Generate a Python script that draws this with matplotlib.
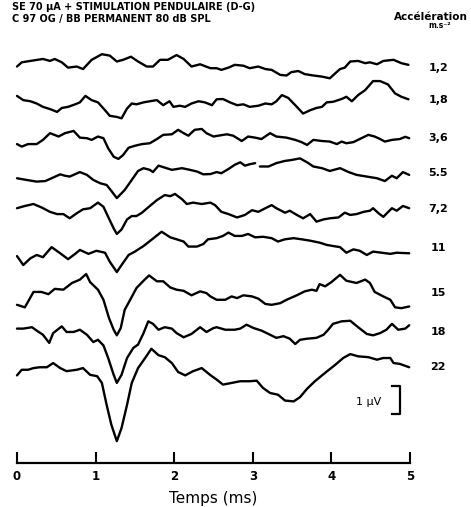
"""
Potentiels évoqués – stimulation pendulaire, 9 accélérations
"""

import numpy as np
import matplotlib
matplotlib.use('Agg')
import matplotlib.pyplot as plt

matplotlib.rcParams.update({
    'font.family': ['DejaVu Sans'],
    'font.size': 8,
    'lines.linewidth': 1.6,
})

nan = np.nan

# accélérations (étiquettes de droite) et position verticale de chaque tracé (µV)
accel_labels = ['1,2', '1,8', '3,6', '5.5', '7,2', '11', '15', '18', '22']
offsets = [14.11, 12.96, 11.61, 10.36, 9.07, 7.68, 6.07, 4.68, 3.43]

# --- tracés : temps (ms), amplitude (µV) ---
t_12 = [0.00, 0.06, 0.17, 0.33, 0.42, 0.48, 0.57, 0.65, 0.76, 0.84, 0.95, 1.08, 1.18, 1.27,
        1.35, 1.45, 1.54, 1.65, 1.73, 1.82, 1.92, 2.03, 2.12, 2.22, 2.33, 2.46, 2.54, 2.60,
        2.69, 2.77, 2.88, 2.96, 3.07, 3.16, 3.24, 3.35, 3.43, 3.49, 3.58, 3.66, 3.77, 3.88,
        3.98, 4.05, 4.11, 4.17, 4.24, 4.34, 4.43, 4.49, 4.58, 4.66, 4.79, 4.89, 4.98]
v_12 = [0.05, 0.20, 0.25, 0.32, 0.25, 0.32, 0.20, 0.01, 0.05, -0.04, 0.29, 0.49, 0.44, 0.23,
        0.29, 0.40, 0.23, 0.05, 0.05, 0.29, 0.29, 0.46, 0.32, 0.05, 0.13, -0.01, -0.01, -0.07,
        0.01, 0.11, 0.08, -0.01, 0.05, -0.04, -0.07, -0.25, -0.27, -0.15, -0.11, -0.22, -0.27, -0.31,
        -0.37, -0.19, -0.04, 0.01, 0.23, 0.25, 0.17, 0.20, 0.13, 0.25, 0.29, 0.17, 0.11]

t_18 = [0.00, 0.08, 0.17, 0.25, 0.33, 0.42, 0.51, 0.57, 0.65, 0.74, 0.80, 0.87, 0.95, 1.03,
        1.12, 1.18, 1.27, 1.33, 1.40, 1.46, 1.52, 1.61, 1.69, 1.78, 1.86, 1.94, 1.99, 2.07,
        2.14, 2.22, 2.31, 2.39, 2.48, 2.54, 2.62, 2.71, 2.80, 2.88, 2.96, 3.07, 3.16, 3.24,
        3.30, 3.37, 3.45, 3.54, 3.64, 3.73, 3.81, 3.88, 3.94, 4.02, 4.13, 4.19, 4.26, 4.34,
        4.43, 4.53, 4.62, 4.72, 4.81, 4.89, 4.98]
v_18 = [0.15, 0.00, -0.04, -0.12, -0.24, -0.32, -0.42, -0.28, -0.24, -0.15, -0.08, 0.15, 0.00, -0.08,
        -0.36, -0.56, -0.60, -0.65, -0.30, -0.12, -0.15, -0.08, -0.04, 0.00, -0.18, -0.04, -0.24, -0.20,
        -0.24, -0.12, -0.04, -0.08, -0.18, 0.03, 0.04, -0.08, -0.18, -0.15, -0.24, -0.20, -0.12, -0.15,
        -0.04, 0.18, 0.08, -0.18, -0.48, -0.36, -0.28, -0.24, -0.08, -0.06, 0.04, 0.12, -0.04, 0.18,
        0.36, 0.68, 0.68, 0.56, 0.24, 0.12, 0.03]

t_36 = [0.00, 0.06, 0.14, 0.25, 0.33, 0.42, 0.53, 0.61, 0.72, 0.80, 0.89, 0.95, 1.03, 1.10,
        1.16, 1.23, 1.29, 1.35, 1.42, 1.50, 1.59, 1.69, 1.78, 1.86, 1.97, 2.05, 2.12, 2.18,
        2.26, 2.35, 2.41, 2.50, 2.56, 2.67, 2.75, 2.86, 2.94, 3.03, 3.11, 3.22, 3.30, 3.43,
        3.54, 3.62, 3.69, 3.77, 3.88, 3.98, 4.07, 4.13, 4.19, 4.28, 4.36, 4.47, 4.55, 4.62,
        4.68, 4.77, 4.87, 4.94, 4.99]
v_36 = [-0.22, -0.31, -0.22, -0.22, -0.07, 0.17, 0.05, 0.17, 0.25, 0.01, -0.01, -0.07, 0.05, -0.01,
        -0.37, -0.67, -0.75, -0.61, -0.35, -0.28, -0.22, -0.19, -0.04, 0.11, 0.13, 0.29, 0.17, 0.08,
        0.29, 0.32, 0.17, 0.05, 0.08, 0.13, 0.08, -0.11, 0.05, 0.01, -0.04, 0.17, 0.05, 0.01,
        -0.07, -0.15, -0.25, -0.07, -0.11, -0.13, -0.22, -0.13, -0.19, -0.15, -0.04, 0.11, 0.05, -0.04,
        -0.13, -0.07, -0.04, 0.04, -0.01]

# le tracé 5.5 est interrompu vers 3,06 ms (nan)
t_55 = [0.00, 0.12, 0.25, 0.36, 0.44, 0.55, 0.61, 0.67, 0.80, 0.89, 0.97, 1.06, 1.14, 1.20,
        1.27, 1.37, 1.46, 1.54, 1.61, 1.69, 1.73, 1.80, 1.88, 1.97, 2.10, 2.20, 2.29, 2.37,
        2.46, 2.54, 2.60, 2.69, 2.77, 2.84, 2.90, 2.96, 3.03, 3.06, 3.09, 3.20, 3.30, 3.41,
        3.49, 3.60, 3.69, 3.77, 3.88, 3.98, 4.11, 4.22, 4.32, 4.45, 4.58, 4.68, 4.77, 4.83,
        4.91, 4.99]
v_55 = [-0.19, -0.25, -0.31, -0.29, -0.19, -0.05, -0.10, -0.13, 0.03, -0.07, -0.25, -0.37, -0.43, -0.64,
        -0.90, -0.61, -0.25, 0.07, 0.17, 0.11, 0.03, 0.26, 0.19, 0.11, 0.17, 0.11, 0.05, -0.05,
        -0.04, 0.03, -0.01, 0.14, 0.29, 0.38, 0.26, 0.31, 0.35, nan, 0.23, 0.23, 0.35, 0.43,
        0.46, 0.52, 0.38, 0.23, 0.17, 0.07, 0.17, 0.03, -0.07, -0.13, -0.19, -0.29, -0.10, -0.19,
        0.03, -0.07]

t_72 = [0.00, 0.10, 0.21, 0.31, 0.42, 0.51, 0.59, 0.67, 0.76, 0.84, 0.93, 1.03, 1.10, 1.16,
        1.23, 1.27, 1.33, 1.40, 1.46, 1.52, 1.59, 1.69, 1.78, 1.88, 1.95, 2.01, 2.10, 2.16,
        2.24, 2.35, 2.46, 2.52, 2.60, 2.69, 2.80, 2.90, 2.99, 3.07, 3.16, 3.24, 3.30, 3.41,
        3.47, 3.56, 3.64, 3.73, 3.81, 3.90, 3.98, 4.09, 4.17, 4.24, 4.32, 4.41, 4.49, 4.53,
        4.60, 4.66, 4.77, 4.83, 4.91, 4.99]
v_72 = [0.03, 0.11, 0.18, 0.06, -0.10, -0.18, -0.18, -0.33, -0.15, -0.01, 0.03, 0.23, 0.08, -0.28,
        -0.69, -0.89, -0.73, -0.37, -0.25, -0.25, -0.13, 0.11, 0.32, 0.50, 0.46, 0.54, 0.35, 0.18,
        0.23, 0.18, 0.23, 0.14, -0.10, -0.18, -0.30, -0.21, -0.04, -0.10, 0.03, 0.14, 0.03, -0.13,
        -0.06, -0.21, -0.33, -0.18, -0.45, -0.37, -0.33, -0.30, -0.13, -0.21, -0.18, -0.10, -0.06, 0.03,
        -0.15, -0.28, 0.03, -0.06, 0.11, 0.03]

t_11 = [0.00, 0.08, 0.17, 0.25, 0.33, 0.44, 0.55, 0.65, 0.74, 0.80, 0.91, 1.01, 1.12, 1.18,
        1.27, 1.33, 1.42, 1.50, 1.61, 1.71, 1.84, 1.95, 2.03, 2.12, 2.18, 2.29, 2.37, 2.43,
        2.54, 2.62, 2.69, 2.77, 2.86, 2.94, 3.03, 3.13, 3.24, 3.32, 3.41, 3.52, 3.62, 3.73,
        3.85, 3.94, 4.02, 4.11, 4.19, 4.28, 4.36, 4.45, 4.53, 4.64, 4.75, 4.83, 4.99]
v_11 = [-0.29, -0.61, -0.37, -0.25, -0.33, 0.03, -0.19, -0.40, -0.21, -0.07, -0.21, -0.10, -0.17, -0.49,
        -0.86, -0.61, -0.25, -0.13, 0.07, 0.29, 0.58, 0.38, 0.31, 0.23, 0.05, 0.05, 0.14, 0.31,
        0.35, 0.43, 0.55, 0.43, 0.43, 0.50, 0.38, 0.40, 0.35, 0.23, 0.31, 0.35, 0.31, 0.26,
        0.19, 0.11, 0.07, 0.03, -0.17, -0.05, -0.10, -0.25, -0.13, -0.17, -0.21, -0.17, -0.19]

t_15 = [0.00, 0.10, 0.21, 0.31, 0.40, 0.48, 0.59, 0.70, 0.80, 0.88, 0.93, 1.03, 1.10, 1.17,
        1.23, 1.27, 1.32, 1.37, 1.44, 1.52, 1.61, 1.68, 1.78, 1.86, 1.95, 2.03, 2.12, 2.22,
        2.33, 2.41, 2.46, 2.54, 2.65, 2.73, 2.80, 2.88, 2.99, 3.07, 3.16, 3.24, 3.35, 3.43,
        3.56, 3.66, 3.75, 3.81, 3.85, 3.92, 4.00, 4.11, 4.19, 4.32, 4.43, 4.49, 4.55, 4.66,
        4.75, 4.81, 4.89, 4.99]
v_15 = [-0.42, -0.51, 0.04, 0.04, -0.04, 0.15, 0.12, 0.36, 0.48, 0.68, 0.39, 0.12, -0.24, -0.89,
        -1.31, -1.51, -1.25, -0.60, -0.24, 0.18, 0.44, 0.63, 0.42, 0.42, 0.20, 0.12, 0.08, -0.08,
        0.06, 0.00, -0.12, -0.24, -0.24, -0.12, -0.18, -0.08, -0.12, -0.20, -0.39, -0.42, -0.36, -0.24,
        -0.08, 0.06, 0.12, 0.08, 0.32, 0.24, 0.39, 0.65, 0.44, 0.36, 0.48, 0.36, 0.04, -0.12,
        -0.24, -0.51, -0.54, -0.48]

t_18b = [0.00, 0.08, 0.19, 0.25, 0.33, 0.41, 0.46, 0.57, 0.63, 0.72, 0.80, 0.89, 0.97, 1.03,
         1.10, 1.16, 1.23, 1.27, 1.33, 1.40, 1.48, 1.54, 1.61, 1.67, 1.73, 1.80, 1.88, 1.97,
         2.03, 2.12, 2.22, 2.33, 2.41, 2.50, 2.54, 2.65, 2.77, 2.84, 2.92, 3.01, 3.11, 3.22,
         3.30, 3.39, 3.47, 3.54, 3.60, 3.69, 3.81, 3.90, 3.96, 4.02, 4.13, 4.24, 4.34, 4.45,
         4.53, 4.62, 4.70, 4.77, 4.85, 4.94, 4.99]
v_18b = [0.12, 0.12, 0.17, 0.05, -0.10, -0.39, -0.04, 0.20, 0.00, 0.00, 0.08, -0.10, -0.36, -0.28,
         -0.48, -0.93, -1.53, -1.82, -1.53, -0.93, -0.57, -0.45, -0.04, 0.38, 0.29, 0.08, 0.17, 0.12,
         -0.04, -0.19, -0.07, 0.17, 0.00, 0.14, 0.17, 0.08, 0.08, 0.12, 0.26, 0.14, 0.05, -0.10,
         -0.21, -0.15, -0.24, -0.43, -0.28, -0.24, -0.21, -0.10, 0.08, 0.29, 0.38, 0.40, 0.17, -0.07,
         -0.12, -0.04, 0.08, 0.29, 0.08, 0.12, 0.24]

t_22 = [0.00, 0.06, 0.14, 0.21, 0.29, 0.38, 0.46, 0.55, 0.63, 0.76, 0.84, 0.93, 1.02, 1.08,
        1.14, 1.20, 1.27, 1.33, 1.40, 1.46, 1.54, 1.63, 1.71, 1.80, 1.88, 1.97, 2.05, 2.14,
        2.24, 2.35, 2.46, 2.54, 2.62, 2.73, 2.84, 2.96, 3.05, 3.13, 3.22, 3.32, 3.41, 3.52,
        3.60, 3.69, 3.79, 3.92, 4.05, 4.15, 4.24, 4.34, 4.47, 4.58, 4.66, 4.75, 4.79, 4.87,
        4.99]
v_22 = [-0.30, -0.10, -0.10, -0.04, -0.01, -0.01, 0.14, -0.04, -0.15, -0.10, -0.04, -0.28, -0.33, -0.57,
        -1.35, -2.06, -2.65, -2.18, -1.35, -0.57, -0.04, 0.32, 0.65, 0.42, 0.35, 0.14, -0.18, -0.30,
        -0.15, -0.04, -0.29, -0.45, -0.63, -0.57, -0.51, -0.51, -0.49, -0.75, -0.93, -0.99, -1.20, -1.23,
        -1.08, -0.78, -0.51, -0.21, 0.08, 0.32, 0.46, 0.38, 0.35, 0.26, 0.32, 0.32, 0.14, 0.11,
        -0.01]

traces = [(t_12, v_12), (t_18, v_18), (t_36, v_36), (t_55, v_55), (t_72, v_72),
          (t_11, v_11), (t_15, v_15), (t_18b, v_18b), (t_22, v_22)]

time_ticks = [0, 1, 2, 3, 4, 5]
scale_uV = 1.0

fig = plt.figure(figsize=(4.71, 5.07), dpi=100)
ax = fig.add_axes([0, 0, 1, 1])
ax.set_xlim(-0.2163, 5.776)
ax.set_ylim(-1.571, 16.536)

for (t, v), off, lab in zip(traces, offsets, accel_labels):
    ax.plot(t, np.asarray(v) + off, color='black', lw=1.7,
            solid_joinstyle='round', solid_capstyle='round')
    ax.text(5.36, off, lab, ha='center', va='center', fontsize=8, fontweight='bold')

# axe du temps (en bas, graduations vers le haut)
for s in ['top', 'left', 'right']:
    ax.spines[s].set_visible(False)
ax.spines['bottom'].set_position(('data', 0))
ax.spines['bottom'].set_bounds(0, 5)
ax.spines['bottom'].set_linewidth(1.6)
ax.set_xticks(time_ticks)
ax.set_xticklabels([str(x) for x in time_ticks], fontweight='bold', fontsize=8.5)
ax.tick_params(axis='x', direction='in', length=8, width=1.5, pad=5)
ax.set_yticks([])
ax.text(2.5, -1.25, 'Temps (ms)', ha='center', va='center', fontsize=11)

# barre d'échelle 1 µV
x_bar = 4.87
y_bot = 1.75
ax.plot([x_bar - 0.10, x_bar, x_bar, x_bar - 0.10],
        [y_bot + scale_uV, y_bot + scale_uV, y_bot, y_bot], color='black', lw=1.6)
ax.text(4.47, 2.18, '1 \u00b5V', ha='center', va='center', fontsize=8)

# en-têtes
ax.text(-0.064, 16.30, 'SE 70 \u00b5A + STIMULATION PENDULAIRE (D-G)',
        ha='left', va='center', fontsize=7, fontweight='bold')
ax.text(-0.064, 15.86, 'C 97 OG / BB PERMANENT 80 dB SPL',
        ha='left', va='center', fontsize=7, fontweight='bold')
ax.text(5.27, 15.93, 'Accélération', ha='center', va='center', fontsize=7.5, fontweight='bold')
ax.text(5.38, 15.62, 'm.s\u207b\u00b2', ha='center', va='center', fontsize=5.5, fontweight='bold')

fig.savefig('out.png', dpi=100)
